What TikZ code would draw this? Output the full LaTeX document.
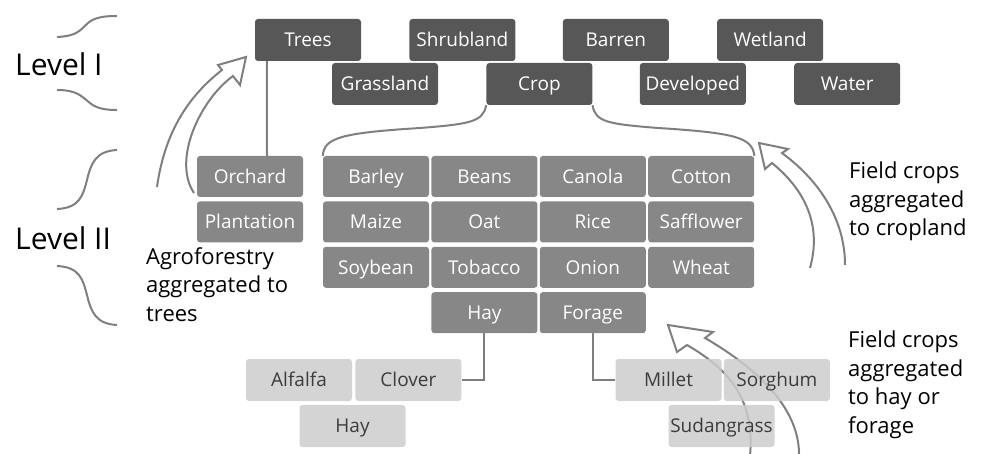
\documentclass[tikz,border=0pt]{standalone}
\usepackage{fontspec}
\setmainfont{Open Sans}
\usepackage{xcolor}
\usepackage{tikz}
\usetikzlibrary{positioning}
\definecolor{darkbox}{HTML}{575757}
\definecolor{midbox}{HTML}{878787}
\definecolor{lightbox}{HTML}{CCCCCC}
\definecolor{linegrey}{HTML}{7F7F7F}
\definecolor{darktext}{HTML}{3C3C3C}
\tikzstyle{box} = [rectangle, rounded corners=3pt, minimum width=106pt, minimum height=42pt, inner sep=0pt, text height=13.6pt, text depth=0pt, font=\fontsize{19}{22}\selectfont]
\tikzstyle{levelone} = [box, fill=darkbox, text=white]
\tikzstyle{leveltwo} = [box, fill=midbox, text=white, minimum height=41pt]
\tikzstyle{levelthree} = [box, fill=lightbox, fill opacity=0.85, text opacity=1, text=darktext]
\tikzstyle{link} = [draw=linegrey, line width=2pt]
\tikzstyle{bigarrow} = [draw=linegrey, line width=2pt, line join=miter]
\tikzstyle{brace} = [draw=linegrey, line width=2pt]
\tikzstyle{note} = [align=left, anchor=north west, inner sep=0pt, font=\fontsize{22}{28.5}\selectfont]
\tikzstyle{levelname} = [anchor=base west, inner sep=0pt, font=\fontsize{30}{36}\selectfont]

\begin{document}
\begin{tikzpicture}[x=1pt, y=-1pt]
  \useasboundingbox (0,0) rectangle (981,454);

  % Braces
  \draw[brace] (57,37) .. controls (78,36) and (80,30) .. (88,23) .. controls (95,17) and (105,16) .. (117,16);
  \draw[brace] (57,90) .. controls (78,90) and (82,97) .. (90,103) .. controls (97,109) and (107,110) .. (117,110);
  \draw[brace] (57,209) .. controls (80,208) and (83,195) .. (87,180) .. controls (91,163) and (96,151) .. (117,150);
  \draw[brace] (57,266) .. controls (80,267) and (83,280) .. (87,295) .. controls (91,312) and (96,324) .. (117,325);

  % Hollow arrows
  \draw[bigarrow] (157,187) .. controls (165,130) and (190,95) .. (222,70) -- (218,65) -- (246,57) -- (240,85) -- (233,76) .. controls (200,100) and (172,160) .. (194,193);
  \draw[bigarrow] (810,268) .. controls (822,225) and (805,190) .. (772,163) -- (765,169) -- (759,143) -- (788,149) -- (782,153) .. controls (825,185) and (845,225) .. (845,265);
  \draw[bigarrow] (750,456) .. controls (755,400) and (730,370) .. (687,345) -- (677,352) -- (668,325) -- (713,332) -- (705,338) .. controls (760,370) and (800,410) .. (799,456);

  % Level I
  \node (trees) [levelone] at (308,40) {Trees};
  \node (shrubland) [levelone, right=48pt of trees] {Shrubland};
  \node (barren) [levelone, right=47pt of shrubland] {Barren};
  \node (wetland) [levelone, right=48pt of barren] {Wetland};
  \node (grassland) [levelone] at (385,84) {Grassland};
  \node (crop) [levelone, right=48pt of grassland] {Crop};
  \node (developed) [levelone, right=47pt of crop] {Developed};
  \node (water) [levelone, right=48pt of developed] {Water};

  % Level II
  \node (orchard) [leveltwo] at (250,176.5) {Orchard};
  \node (plantation) [leveltwo, below=4pt of orchard] {Plantation};
  \node (barley) [leveltwo] at (376,176.5) {Barley};
  \node (beans) [leveltwo, right=2pt of barley] {Beans};
  \node (canola) [leveltwo, right=2pt of beans] {Canola};
  \node (cotton) [leveltwo, right=2pt of canola] {Cotton};
  \node (maize) [leveltwo, below=4pt of barley] {Maize};
  \node (oat) [leveltwo, right=2pt of maize] {Oat};
  \node (rice) [leveltwo, right=2pt of oat] {Rice};
  \node (safflower) [leveltwo, right=2pt of rice] {Safflower};
  \node (soybean) [leveltwo, below=4pt of maize] {Soybean};
  \node (tobacco) [leveltwo, right=2pt of soybean] {Tobacco};
  \node (onion) [leveltwo, right=2pt of tobacco] {Onion};
  \node (wheat) [leveltwo, right=2pt of onion] {Wheat};
  \node (hay) [leveltwo, below=4pt of tobacco] {Hay};
  \node (forage) [leveltwo, right=2pt of hay] {Forage};

  % Field crops under hay and forage
  \node (alfalfa) [levelthree] at (299,380) {Alfalfa};
  \node (clover) [levelthree, right=3pt of alfalfa] {Clover};
  \node (hayfield) [levelthree] at (352.5,426) {Hay};
  \node (millet) [levelthree] at (668.5,380) {Millet};
  \node (sorghum) [levelthree, right=2pt of millet] {Sorghum};
  \node (sudangrass) [levelthree] at (721.5,426) {Sudangrass};

  % Links
  \draw[link] ([xshift=12pt]trees.south west) -- ([xshift=17pt]orchard.north);
  \draw[link] (crop.south west) .. controls (483,122) and (470,124) .. (420,128) .. controls (340,133) and (324,138) .. (barley.north west);
  \draw[link] (crop.south east) .. controls (595,122) and (608,124) .. (658,128) .. controls (738,133) and (752,138) .. (cotton.north east);
  \draw[link] (hay.south) |- (clover.east);
  \draw[link] (forage.south) |- (millet.west);

  % Labels
  \node (levelI) [levelname] at (15,76) {Level I};
  \node (levelII) [levelname] at (15,249) {Level II};
  \node (agronote) [note] at (146,247) {Agroforestry\\aggregated to\\trees};
  \node (cropnote) [note] at (849,162) {Field crops\\aggregated\\to cropland};
  \node (haynote) [note] at (848,331) {Field crops\\aggregated\\to hay or\\forage};
\end{tikzpicture}
\end{document}
